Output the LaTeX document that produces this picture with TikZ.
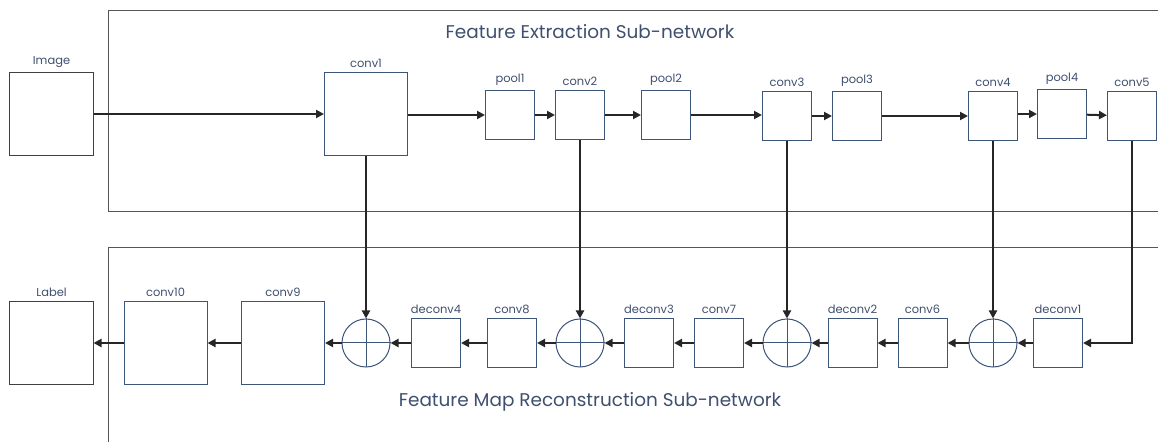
\documentclass[tikz,border=0pt]{standalone}
\usepackage{fontspec}
\setmainfont{Poppins}
\usetikzlibrary{arrows.meta}
\definecolor{boxline}{HTML}{3D5677}
\definecolor{txt}{HTML}{3F4F6E}
\definecolor{framegray}{HTML}{555555}
\begin{document}
\begin{tikzpicture}[x=1bp,y=-1bp,
  blk/.style={draw=boxline, line width=1bp, fill=white, minimum width=#1, minimum height=#1, inner sep=0pt},
  blk/.default=49bp,
  io/.style={draw=black!75, line width=1bp, fill=white, minimum width=83bp, minimum height=83bp, inner sep=0pt},
  sumnode/.style={circle, draw=boxline, line width=1bp, fill=white, minimum size=48bp, inner sep=0pt},
  tag/.style={font=\fontsize{11.5}{13}\selectfont, text=txt, inner sep=2pt},
  title/.style={font=\fontsize{18.5}{22}\selectfont, text=txt},
  frameline/.style={draw=framegray, line width=1.2bp},
  flow/.style={line width=2bp, black!85, -{Triangle[length=8bp,width=8bp]}},
  every label/.style={label distance=2pt}]
\useasboundingbox (0,0) rectangle (1158,442);

% sub-network frames
\draw[frameline] (1162,10.5) -- (108.5,10.5) -- (108.5,211.5) -- (1162,211.5);
\draw[frameline] (1162,247.5) -- (108.5,247.5) -- (108.5,446);

\node[title] (fetitle) at (590,32) {Feature Extraction Sub-network};
\node[title] (frtitle) at (590,402) {Feature Map Reconstruction Sub-network};

% feature extraction path
\node[io, label={[tag]above:Image}] (image) at (51.5,114) {};
\node[blk=83bp, label={[tag]above:conv1}] (conv1) at (366,114) {};
\node[blk, label={[tag]above:pool1}] (pool1) at (510,115) {};
\node[blk, label={[tag]above:conv2}] (conv2) at (580,115) {};
\node[blk, label={[tag]above:pool2}] (pool2) at (666,115) {};
\node[blk, label={[tag]above:conv3}] (conv3) at (787,116) {};
\node[blk, label={[tag]above:pool3}] (pool3) at (857,116) {};
\node[blk, label={[tag]above:conv4}] (conv4) at (993,116) {};
\node[blk, label={[tag]above:pool4}] (pool4) at (1062,114) {};
\node[blk, label={[tag]above:conv5}] (conv5) at (1132,116) {};

% reconstruction path
\node[io, label={[tag]above:Label}] (label) at (51.5,343) {};
\node[blk=83bp, label={[tag]above:conv10}] (conv10) at (165.5,343) {};
\node[blk=83bp, label={[tag]above:conv9}] (conv9) at (283,343) {};
\node[sumnode] (sum1) at (366,343) {};
\node[blk, label={[tag]above:deconv4}] (deconv4) at (436,343) {};
\node[blk, label={[tag]above:conv8}] (conv8) at (512,343) {};
\node[sumnode] (sum2) at (580,343) {};
\node[blk, label={[tag]above:deconv3}] (deconv3) at (649,343) {};
\node[blk, label={[tag]above:conv7}] (conv7) at (719,343) {};
\node[sumnode] (sum3) at (787,343) {};
\node[blk, label={[tag]above:deconv2}] (deconv2) at (852.5,343) {};
\node[blk, label={[tag]above:conv6}] (conv6) at (922.5,343) {};
\node[sumnode] (sum4) at (993,343) {};
\node[blk, label={[tag]above:deconv1}] (deconv1) at (1058,343) {};

% crosses inside the summation circles
\foreach \s in {sum1,sum2,sum3,sum4}{
  \draw[boxline, line width=1bp] (\s.north) -- (\s.south) (\s.west) -- (\s.east);
}

% forward connections
\draw[flow] (image.east) -- (conv1.west |- image.east);
\draw[flow] (conv1.east |- pool1.west) -- (pool1.west);
\draw[flow] (pool1) -- (conv2);
\draw[flow] (conv2) -- (pool2);
\draw[flow] (pool2.east) -- (conv3.west |- pool2.east);
\draw[flow] (conv3) -- (pool3);
\draw[flow] (pool3.east) -- (conv4.west |- pool3.east);
\draw[flow] (conv4.east |- pool4.west) -- (pool4.west);
\draw[flow] (pool4) -- (conv5);

% skip connections
\draw[flow] (conv1.south) -- (sum1.north);
\draw[flow] (conv2.south) -- (sum2.north);
\draw[flow] (conv3.south) -- (sum3.north);
\draw[flow] (conv4.south) -- (sum4.north);
\draw[flow] (conv5.south) |- (deconv1.east);

% reconstruction flow
\draw[flow] (deconv1) -- (sum4);
\draw[flow] (sum4) -- (conv6);
\draw[flow] (conv6) -- (deconv2);
\draw[flow] (deconv2) -- (sum3);
\draw[flow] (sum3) -- (conv7);
\draw[flow] (conv7) -- (deconv3);
\draw[flow] (deconv3) -- (sum2);
\draw[flow] (sum2) -- (conv8);
\draw[flow] (conv8) -- (deconv4);
\draw[flow] (deconv4) -- (sum1);
\draw[flow] (sum1) -- (conv9);
\draw[flow] (conv9) -- (conv10);
\draw[flow] (conv10) -- (label);
\end{tikzpicture}
\end{document}
